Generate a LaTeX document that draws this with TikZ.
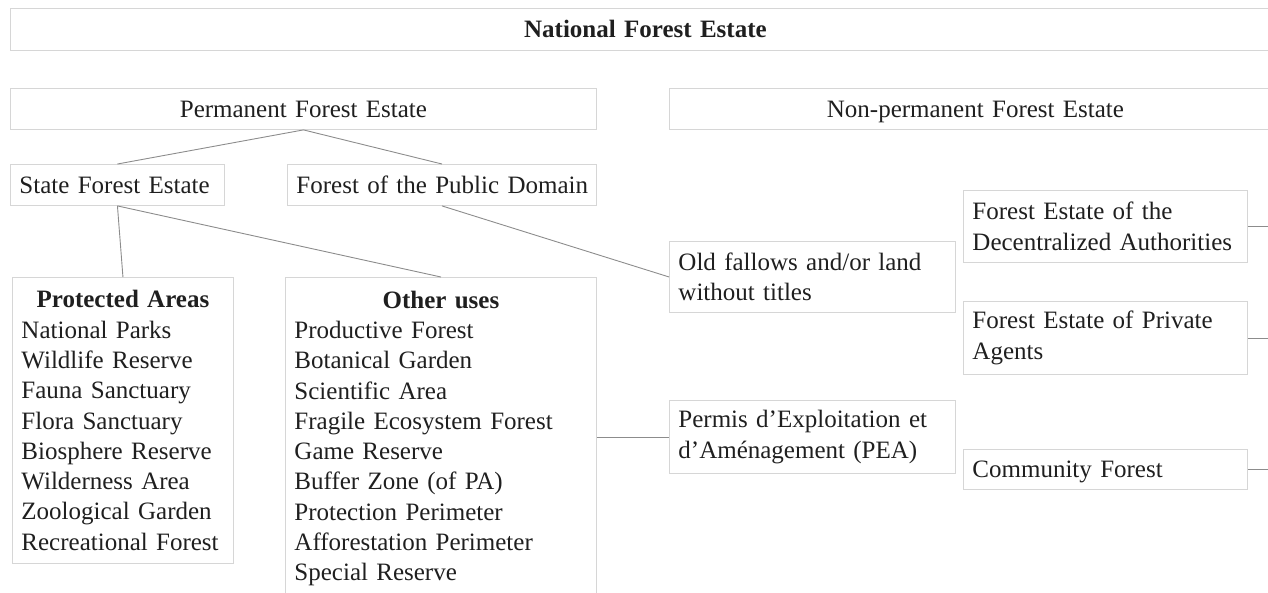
\documentclass[tikz,border=0pt]{standalone}
\usepackage{fontspec}
\setmainfont{Liberation Serif}
\begin{document}
\begin{tikzpicture}[x=1pt,y=-1pt,
  box/.style={draw=black!16, line width=0.9pt, inner xsep=9pt, inner ysep=0pt,
    anchor=north west, font=\fontsize{25}{30.3}\selectfont, text=black!88},
  single/.style={text height=20pt, text depth=3pt},
  conn/.style={draw=black!45, line width=0.9pt}]
\useasboundingbox (0,0) rectangle (1268,592);
% top level
\node[box, single, minimum height=42, text width=1252, align=center] (nat) at (10,8) {\bfseries National Forest Estate};
\node[box, single, minimum height=41, text width=568, align=center] (perm) at (10,88) {Permanent Forest Estate};
\node[box, single, minimum height=41, text width=594, align=center] (nonperm) at (669,88) {Non-permanent Forest Estate};
% second level
\node[box, single, minimum height=41, text width=196, align=left] (state) at (10,164) {\makebox[196pt][l]{State Forest Estate}};
\node[box, single, minimum height=41, text width=291, align=left] (pub) at (287,164) {\makebox[291pt][l]{Forest of the Public Domain}};
% lists
\node[box, minimum height=286, text width=203, align=left] (prot) at (12,277)
  {\makebox[203pt]{\bfseries Protected Areas}\\National Parks\\Wildlife Reserve\\Fauna Sanctuary\\Flora Sanctuary\\Biosphere Reserve\\Wilderness Area\\Zoological Garden\\Recreational Forest};
\node[box, minimum height=322, text width=293, align=left] (other) at (285,277)
  {\makebox[293pt]{\bfseries Other uses}\\Productive Forest\\Botanical Garden\\Scientific Area\\Fragile Ecosystem Forest\\Game Reserve\\Buffer Zone (of PA)\\Protection Perimeter\\Afforestation Perimeter\\Special Reserve};
% middle column
\node[box, minimum height=71, text width=268, align=left] (old) at (669,241) {Old fallows and/or land\\without titles};
\node[box, minimum height=73, text width=268, align=left] (pea) at (669,400) {Permis d’Exploitation et\\d’Aménagement (PEA)};
% right column
\node[box, minimum height=72, text width=266, align=left] (dec) at (963,190) {Forest Estate of the\\Decentralized Authorities};
\node[box, minimum height=73, text width=266, align=left] (priv) at (963,301) {Forest Estate of Private\\Agents};
\node[box, single, minimum height=40, text width=266, align=left] (comm) at (963,449) {\makebox[266pt][l]{Community Forest}};
\coordinate (edge) at (1272,0);
% connectors
\draw[conn] (perm.south) -- (state.north);
\draw[conn] (perm.south) -- (pub.north);
\draw[conn] (state.south) -- (prot.north);
\draw[conn] (state.south) -- (other.north);
\draw[conn] (pub.south) -- (old.west);
\draw[conn] (other.east |- pea.west) -- (pea.west);
\draw[conn] (dec.east) -- (dec.east -| edge);
\draw[conn] (priv.east) -- (priv.east -| edge);
\draw[conn] (comm.east) -- (comm.east -| edge);
\end{tikzpicture}
\end{document}
